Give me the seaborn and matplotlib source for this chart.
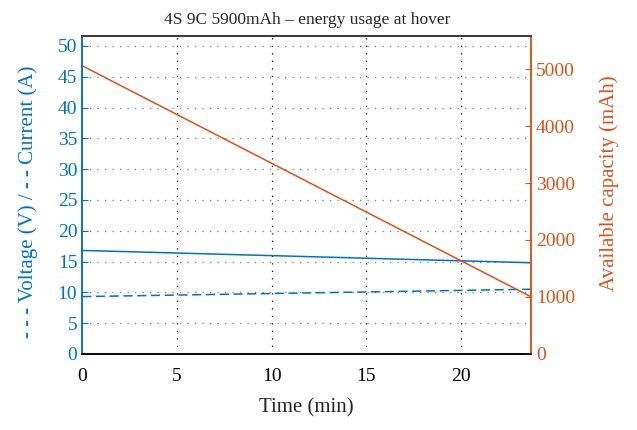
import numpy as np
import pandas as pd
import matplotlib
matplotlib.use('Agg')
import matplotlib.pyplot as plt
import seaborn as sns

# values
time_min = [0, 23.7]
voltage = [16.8, 14.8]
current = [9.3, 10.5]
capacity = [5060, 1000]

x_ticks = [0, 5, 10, 15, 20]
left_ticks = [0, 5, 10, 15, 20, 25, 30, 35, 40, 45, 50]
right_ticks = [0, 1000, 2000, 3000, 4000, 5000]

blue = '#0072BD'
orange = '#D95319'

sns.set_style('white')
plt.rcParams['font.family'] = ['Liberation Serif', 'DejaVu Serif']

df = pd.DataFrame({'time': time_min, 'voltage': voltage,
                   'current': current, 'capacity': capacity})

fig, ax = plt.subplots(figsize=(6.37, 4.30), dpi=100)
fig.subplots_adjust(left=0.129, right=0.834, top=0.916, bottom=0.177)

sns.lineplot(data=df, x='time', y='voltage', ax=ax, color=blue, lw=1.1)
sns.lineplot(data=df, x='time', y='current', ax=ax, color=blue, lw=1.1,
             linestyle=(0, (6, 3)))
ax.set_xlim(0, 23.7)
ax.set_ylim(0, 51.6)
ax.set_xticks(x_ticks)
ax.set_yticks(left_ticks)

# grid: horizontal grey dots, vertical black dots
for y in left_ticks[1:]:
    ax.axhline(y, color='#777777', lw=0.9, ls=(0, (1, 5)), zorder=0)
for x in x_ticks[1:]:
    ax.axvline(x, color='black', lw=0.9, ls=(0, (1, 5)), zorder=0)

ax.set_xlabel('Time (min)', fontsize=15, labelpad=10)
ax.set_ylabel('- - - Voltage (V) / - - Current (A)', fontsize=15, color=blue)
ax.yaxis.set_label_coords(-0.098, 0.48)
ax.set_title('4S 9C 5900mAh \u2013 energy usage at hover', fontsize=12.5, pad=9)
ax.tick_params(axis='y', colors=blue, labelsize=14, direction='in', length=4)
ax.tick_params(axis='x', colors='black', labelsize=14, direction='in', length=4, pad=10)

ax2 = ax.twinx()
sns.lineplot(data=df, x='time', y='capacity', ax=ax2, color=orange, lw=1.1)
ax2.set_ylim(0, 5580)
ax2.set_yticks(right_ticks)
ax2.set_ylabel('Available capacity (mAh)', fontsize=15, color=orange, rotation=90)
ax2.yaxis.set_label_coords(1.151, 0.538)
ax2.tick_params(axis='y', colors=orange, labelsize=14, direction='in', length=4)

for a in (ax, ax2):
    a.spines['top'].set_color('#333333')
    a.spines['bottom'].set_color('black')
    a.spines['left'].set_color(blue)
    a.spines['right'].set_color(orange)
    for s in a.spines.values():
        s.set_linewidth(1.1)

fig.savefig('out.png', dpi=100)
